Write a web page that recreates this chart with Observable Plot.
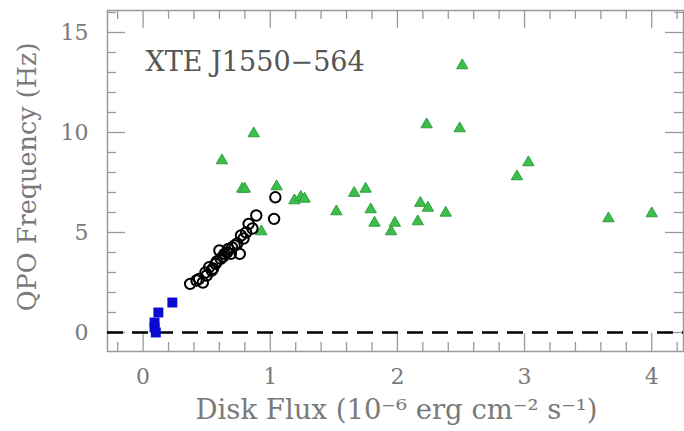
<!DOCTYPE html>
<html>
<head>
<meta charset="utf-8">
<script src="https://cdn.jsdelivr.net/npm/d3@7"></script>
<script src="https://cdn.jsdelivr.net/npm/@observablehq/plot@0.6"></script>
<style>
  html, body { margin: 0; padding: 0; background: #fff; }
</style>
</head>
<body>
<div id="chart"></div>
<script>
// ---- data ----
const titleText = "XTE J1550\u2212564";
const xLabel = "Disk Flux (10\u207B\u2076 erg cm\u207B\u00B2 s\u207B\u00B9)";
const yLabel = "QPO Frequency (Hz)";

const xTickLabels = [0, 1, 2, 3, 4];
const yTickLabels = [0, 5, 10, 15];
const xMinorTicks = [-0.2, 0.2, 0.4, 0.6, 0.8, 1.2, 1.4, 1.6, 1.8, 2.2, 2.4, 2.6, 2.8, 3.2, 3.4, 3.6, 3.8, 4.2];
const yMinorTicks = [1, 2, 3, 4, 6, 7, 8, 9, 11, 12, 13, 14, 16];

// blue filled squares
const squareFlux = [0.10, 0.09, 0.09, 0.12, 0.23];
const squareFreq = [0.00, 0.25, 0.50, 1.00, 1.50];

// black open circles
const circleFlux = [0.37, 0.44, 0.47, 0.49, 0.52, 0.54, 0.57, 0.60, 0.61, 0.64, 0.67, 0.69, 0.72, 0.76, 0.77, 0.81, 0.83, 0.89, 1.03, 1.04,
                    0.42, 0.50, 0.55, 0.58, 0.63, 0.66, 0.70, 0.74, 0.79, 0.86];
const circleFreq = [2.43, 2.68, 2.50, 3.00, 3.27, 3.10, 3.43, 4.10, 3.68, 3.93, 4.18, 3.93, 4.35, 3.93, 4.85, 5.00, 5.43, 5.85, 5.68, 6.76,
                    2.60, 2.85, 3.20, 3.55, 3.80, 4.00, 4.25, 4.45, 4.70, 5.20];

// green filled triangles
const triFlux = [0.62, 0.78, 0.80, 0.87, 1.05, 0.93, 1.19, 1.24, 1.27, 1.52, 1.66, 1.75, 1.79, 1.82, 1.95, 1.98, 2.16, 2.18, 2.24, 2.38,
                 2.23, 2.49, 2.51, 2.94, 3.03, 3.66, 4.00];
const triFreq = [8.60, 7.18, 7.18, 9.95, 7.30, 5.05, 6.60, 6.77, 6.68, 6.05, 6.97, 7.18, 6.15, 5.48, 5.05, 5.48, 5.55, 6.47, 6.23, 5.98,
                 10.40, 10.20, 13.35, 7.80, 8.50, 5.70, 5.95];

// ---- build tables ----
const squares = squareFlux.map((x, i) => ({x, y: squareFreq[i]}));
const circles = circleFlux.map((x, i) => ({x, y: circleFreq[i]}));
const triangles = triFlux.map((x, i) => ({x, y: triFreq[i]}));

const W = 684, H = 431;
const mT = 10, mB = 80, mL = 107, mR = 1;
const innerH = H - mT - mB;
const innerW = W - mL - mR;
const majorLen = 18, minorLen = 9;
const axisColor = "#9a9a9a";
const textColor = "#7a7a7a";
const font = "DejaVu Serif";

const chart = Plot.plot({
  width: W,
  height: H,
  marginTop: mT,
  marginBottom: mB,
  marginLeft: mL,
  marginRight: mR,
  style: {fontFamily: font, background: "#fff"},
  x: {domain: [-0.28, 4.25]},
  y: {domain: [-0.95, 16.1]},
  marks: [
    Plot.frame({stroke: axisColor, strokeWidth: 1.5}),
    // ticks, drawn inward on all four sides
    Plot.ruleX(xTickLabels, {insetTop: innerH - majorLen, stroke: axisColor, strokeWidth: 1.3}),
    Plot.ruleX(xTickLabels, {insetBottom: innerH - majorLen, stroke: axisColor, strokeWidth: 1.3}),
    Plot.ruleX(xMinorTicks, {insetTop: innerH - minorLen, stroke: axisColor, strokeWidth: 1.3}),
    Plot.ruleX(xMinorTicks, {insetBottom: innerH - minorLen, stroke: axisColor, strokeWidth: 1.3}),
    Plot.ruleY(yTickLabels, {insetRight: innerW - majorLen, stroke: axisColor, strokeWidth: 1.3}),
    Plot.ruleY(yTickLabels, {insetLeft: innerW - majorLen, stroke: axisColor, strokeWidth: 1.3}),
    Plot.ruleY(yMinorTicks, {insetRight: innerW - minorLen, stroke: axisColor, strokeWidth: 1.3}),
    Plot.ruleY(yMinorTicks, {insetLeft: innerW - minorLen, stroke: axisColor, strokeWidth: 1.3}),
    Plot.axisX({ticks: xTickLabels, tickSize: 0, tickPadding: 17, fontSize: 22, fill: textColor, label: null, tickFormat: d => String(d)}),
    Plot.axisY({ticks: yTickLabels, tickSize: 0, tickPadding: 19, fontSize: 22, fill: textColor, label: null, tickFormat: d => String(d)}),
    // dashed zero line
    Plot.ruleY([0], {stroke: "#000", strokeWidth: 2.5, strokeDasharray: "16,9"}),
    // data
    Plot.dot(triangles, {x: "x", y: "y", symbol: "triangle", r: 4.2, fill: "#3cbf4a", stroke: "#2f9e3c", strokeWidth: 1}),
    Plot.dot(circles, {x: "x", y: "y", symbol: "circle", r: 5.2, fill: "none", stroke: "#000", strokeWidth: 2}),
    Plot.dot(squares, {x: "x", y: "y", symbol: "square", r: 5.6, fill: "#0a0ad0"}),
    // texts
    Plot.text([titleText], {frameAnchor: "top-left", dx: 38, dy: 52, textAnchor: "start", lineAnchor: "middle", fontSize: 27, fill: "#555", text: d => d}),
    Plot.text([xLabel], {frameAnchor: "bottom", dy: 59, dx: 1, textAnchor: "middle", lineAnchor: "middle", fontSize: 27.5, fill: textColor, text: d => d}),
    Plot.text([yLabel], {frameAnchor: "left", dx: -80, dy: -4, rotate: -90, textAnchor: "middle", lineAnchor: "middle", fontSize: 25.5, fill: textColor, text: d => d})
  ]
});

document.getElementById("chart").appendChild(chart);
</script>
</body>
</html>
